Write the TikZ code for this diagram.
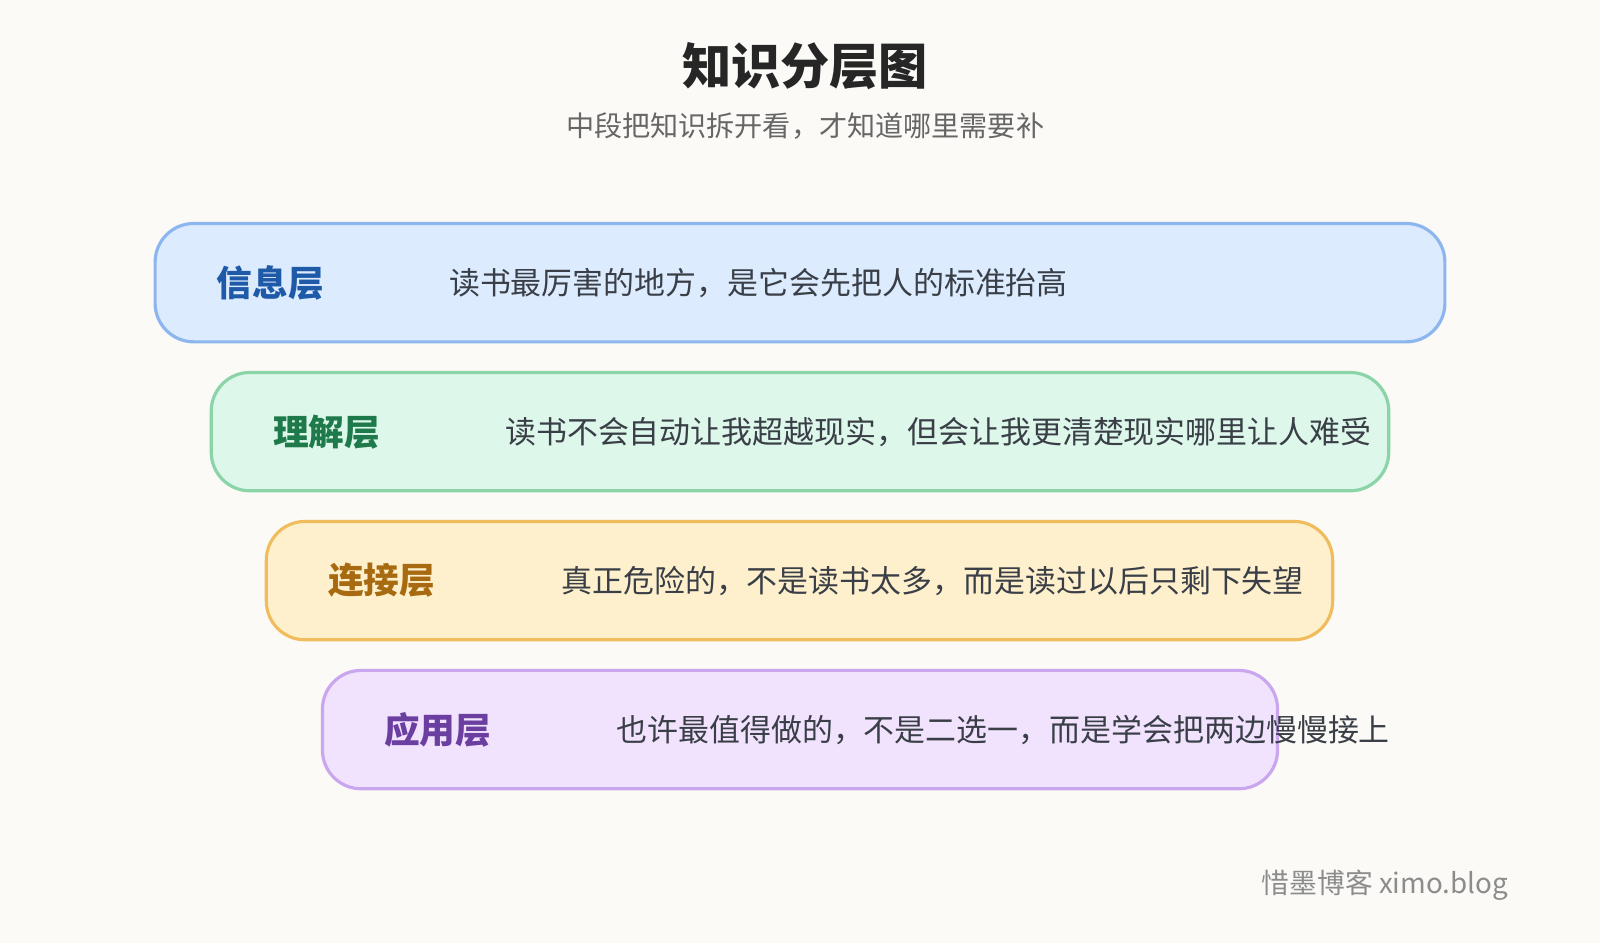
\documentclass[tikz,border=0pt]{standalone}
\usepackage{fontspec}
\setmainfont{Noto Sans CJK SC}
\usetikzlibrary{positioning}
\definecolor{bgc}{HTML}{FBFAF6}
\definecolor{infofill}{HTML}{DCEBFE}\definecolor{infodraw}{HTML}{8DB6EE}\definecolor{infotext}{HTML}{1E5AA8}
\definecolor{undfill}{HTML}{DDF7EA}\definecolor{unddraw}{HTML}{8AD4A8}\definecolor{undtext}{HTML}{1E7A4A}
\definecolor{confill}{HTML}{FEF0CC}\definecolor{condraw}{HTML}{F0BD5E}\definecolor{context}{HTML}{A86A10}
\definecolor{appfill}{HTML}{F1E3FE}\definecolor{appdraw}{HTML}{C9A6EE}\definecolor{apptext}{HTML}{6B3FA0}
\definecolor{bodytext}{HTML}{3A3F47}
\tikzset{
  layerbox/.style={rounded corners=22pt, line width=1.8pt},
  layername/.style={font=\fontsize{20.3}{22}\selectfont\bfseries},
  layerdesc/.style={anchor=west, text=bodytext, font=\fontsize{17.6}{19}\selectfont}
}
\begin{document}
\begin{tikzpicture}[x=0.020408cm, y=-0.020408cm]

    % Background
    \fill[bgc] (0, 0) rectangle (1568, 924);

    % Title and subtitle
    \node[font=\fontsize{28}{30}\selectfont\bfseries, text=black!85] (title) at (789, 65) {知识分层图};
    \node[font=\fontsize{16}{18}\selectfont, text=black!60] (subtitle) at (789, 124) {中段把知识拆开看，才知道哪里需要补};

    % Information layer
    \draw[layerbox, fill=infofill, draw=infodraw] (152, 219) rectangle (1416, 335);
    \node[layername, text=infotext] (info) at (265, 277) {信息层};
    \node[layerdesc] (infodesc) at (434, 277) {读书最厉害的地方，是它会先把人的标准抬高};

    % Understanding layer
    \draw[layerbox, fill=undfill, draw=unddraw] (207, 365) rectangle (1361, 481);
    \node[layername, text=undtext] (understand) at (320, 423) {理解层};
    \node[layerdesc] (understanddesc) at (489, 423) {读书不会自动让我超越现实，但会让我更清楚现实哪里让人难受};

    % Connection layer
    \draw[layerbox, fill=confill, draw=condraw] (261, 511) rectangle (1306, 627);
    \node[layername, text=context] (connect) at (374, 569) {连接层};
    \node[layerdesc] (connectdesc) at (544, 569) {真正危险的，不是读书太多，而是读过以后只剩下失望};

    % Application layer
    \draw[layerbox, fill=appfill, draw=appdraw] (316, 657) rectangle (1252, 773);
    \node[layername, text=apptext] (apply) at (429, 715) {应用层};
    \node[layerdesc] (applydesc) at (598, 715) {也许最值得做的，不是二选一，而是学会把两边慢慢接上};

    % Footer
    \node[anchor=east, text=black!45, font=\fontsize{15.8}{17}\selectfont] (footer) at (1484, 867) {惜墨博客 ximo.blog};

\end{tikzpicture}
\end{document}
